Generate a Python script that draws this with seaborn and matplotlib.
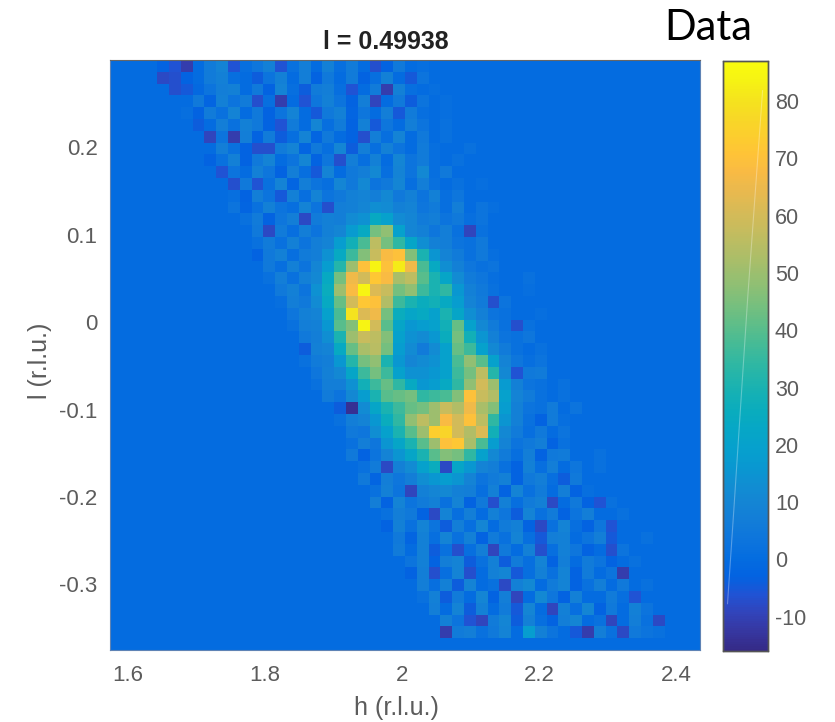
import seaborn as sns
import pandas as pd
import matplotlib.pyplot as plt
from matplotlib import use
from matplotlib.colors import LinearSegmentedColormap

# cell values, top row first, on a 50 x 50 grid
intensity_rows = [
    [0]*4 + [-3, -6, -11, 0, 6, 9, -6, 1, 4, 8, -6, 2, 7, 0, 8, 1, 6, 0, -7, -3, 5, 0, 1],
    [0]*4 + [-8, -7, -3, 0, 6, 8, 1, 0, -4, 3, 8, 0, 7, -3, 5, 0, 6, -3, 1, 8, 0, -5, 3, 0],
    [0]*5 + [-7, -5, -1, 3, 7, 8, 0, 5, -3, 9, 1, -4, 6, 7, 1, -6, 0, 6, -11, 8, 1, 0, 1],
    [0]*6 + [0, 5, -2, 8, 3, 6, -7, 1, -11, 0, -6, 4, 8, 3, -3, 7, -9, 0, 5, -4, 3, 0, 1],
    [0]*6 + [1, -3, 6, 2, 9, 0, 5, -3, 3, 9, 0, -5, 5, 8, -2, 4, 0, 7, -5, 6, 1, 0, 1],
    [0]*7 + [-4, 0, 7, 2, 8, 5, -3, -6, 6, 0, 10, 1, 6, -3, 8, -5, 4, 0, 7, 3, 0, 2, 0],
    [0]*7 + [0, -9, 3, -11, 7, -3, 6, -4, 1, 9, -2, 5, 0, -3, -7, 7, 1, 9, 0, 5, 0, 2, 0],
    [0]*8 + [0, 7, 2, -3, -7, -7, 6, 9, -2, 5, 1, 10, -4, 7, 1, 8, 3, 0, 6, 1, 0, 0, 2],
    [0]*8 + [-3, 2, 8, -3, 5, 9, 0, 3, 10, -3, 4, -7, 7, 1, 8, 0, 10, 3, 6, 1, 0, 2],
    [0]*9 + [-6, 3, 0, 8, 4, -3, 7, 1, -5, 9, 0, 5, 7, 11, 1, 9, 3, 11, 1, 5, 0, 0],
    [0]*9 + [0, -7, 5, -6, 2, 9, -2, 7, 3, 1, 10, 5, 11, 3, 5, 10, 1, 7, 2, 0, 2, 0, 1],
    [0]*10 + [1, -3, 7, 3, -5, 8, 1, 9, 3, 5, 8, 9, 7, 11, 5, 8, 3, 8, 1, 4, 0, 0],
    [0]*10 + [3, -2, 2, 8, 3, 1, 9, 3, -7, 7, 8, 10, 13, 12, 8, 9, 4, 6, 1, 7, 0, 3, 1],
    [0]*11 + [2, 6, -3, 4, 7, -8, 6, 8, 7, 12, 14, 24, 20, 12, 10, 6, 7, 3, 5, 1, 3, 0],
    [0]*11 + [0, 5, -8, 6, 1, 7, 3, 8, 10, 17, 24, 44, 48, 20, 10, 8, 4, 7, 2, -9, 2, 0, 0],
    [0]*12 + [2, 6, 2, 8, 3, 7, 9, 18, 28, 38, 56, 44, 34, 22, 13, 8, 7, 3, 2, 5, 0, 0],
    [0]*12 + [-3, 5, 8, 1, 6, 7, 14, 24, 36, 46, 58, 68, 70, 46, 30, 15, 9, 6, 2, 5, 1, 0, 0],
    [0]*13 + [5, 1, 8, 3, 10, 18, 32, 50, 70, 84, 70, 82, 66, 38, 24, 13, 8, 4, 2, 3, 0, 0],
    [0]*13 + [2, 7, 2, 8, 11, 24, 44, 66, 60, 72, 68, 52, 56, 40, 30, 22, 12, 6, 4, 1, 0, 0, 2],
    [0]*14 + [5, 8, 3, 14, 26, 50, 68, 84, 62, 58, 44, 48, 36, 30, 34, 16, 8, 5, 2, 0, 0, 1],
    [0]*14 + [1, 7, 5, 12, 24, 42, 60, 72, 70, 54, 36, 30, 26, 28, 24, 18, 9, 6, -7, 3, 0, 0],
    [0]*15 + [4, 8, 9, 20, 38, 80, 62, 66, 44, 26, 22, 24, 20, 30, 22, 13, 8, 3, 2, 0, 0, 1],
    [0]*15 + [2, 7, 8, 16, 40, 46, 84, 60, 40, 22, 16, 18, 20, 28, 42, 20, 11, 6, 2, -7, 2, 0],
    [0]*16 + [5, 7, 13, 30, 50, 58, 56, 46, 20, 14, 12, 16, 26, 44, 28, 15, 8, 3, 2, 4, 0, 0],
    [0]*16 + [-4, 8, 9, 24, 42, 52, 55, 44, 18, 12, 6, 12, 20, 42, 36, 20, 11, 6, 2, 0, 2, 0],
    [0]*16 + [2, 6, 7, 16, 32, 44, 48, 30, 16, 10, 12, 14, 20, 38, 48, 40, 20, 9, 4, 1, 3, 0, 0],
    [0]*17 + [4, 8, 11, 22, 36, 44, 36, 20, 14, 14, 16, 20, 36, 44, 56, 32, 11, -6, 5, 6, 0, 0],
    [0]*17 + [2, 7, 7, 14, 28, 36, 42, 34, 24, 16, 18, 24, 34, 48, 60, 50, 17, 8, 3, 2, 0, 2, 0],
    [0]*18 + [6, 3, 11, 18, 30, 40, 42, 44, 34, 36, 38, 46, 70, 58, 54, 20, 9, 6, 2, 0, 2, 0],
    [0]*18 + [0, -4, -14, 12, 22, 30, 36, 42, 44, 50, 58, 54, 66, 52, 46, 18, 8, 3, 2, 6, 0, 3, 0],
    [0]*19 + [2, 7, 9, 16, 26, 34, 48, 56, 50, 68, 60, 70, 56, 34, 15, 8, 2, -3, 6, 1, 0, 0],
    [0]*19 + [0, 5, 4, 13, 20, 30, 40, 50, 74, 76, 60, 54, 62, 28, 11, 6, 1, 5, 0, 3, 0, 0],
    [0]*20 + [2, 7, 4, 15, 22, 30, 40, 50, 70, 72, 52, 38, 18, 9, 3, 5, 7, -3, 2, 0, 0, 0],
    [0]*20 + [5, -3, 3, 9, 15, 22, 30, 40, 46, 44, 34, 20, 11, 6, 1, 7, -3, 5, 6, 0, 0, 2],
    [0]*21 + [2, 6, -8, 8, 12, 20, 26, -8, 22, 16, 9, 7, 2, -3, 8, 1, 7, 0, 4, 0, 2, 0],
    [0]*21 + [5, -2, 7, 4, 7, 13, 16, 18, 15, 9, 3, 6, 8, -3, 5, 7, 1, -4, 5, 0, 0, 0],
    [0]*22 + [2, 8, 3, -9, 8, 10, 11, 8, 7, 1, 8, -3, 9, 2, 6, 0, 7, -3, 1, 0, 0, 0],
    [0]*22 + [7, -3, 9, 3, 6, 8, 2, 9, -3, 5, -7, 8, 1, 6, 8, -8, 0, 5, -3, -6, 2, 0],
    [0]*23 + [2, 7, 5, -3, -8, 9, 1, 7, 0, 8, 4, -4, 9, 2, 6, -3, 3, 7, 0, 0, 2, 0],
    [0]*23 + [-3, 8, 2, 9, 3, -4, 7, 1, 10, 0, 6, 8, -3, -8, 2, 9, 1, -3, 4, -6, 0, 0],
    [0]*24 + [5, -2, 8, 1, 9, 2, 8, -3, 6, 2, 9, 1, -5, 7, 8, 0, 3, 7, -5, 0, 0, 2],
    [0]*24 + [6, 0, 8, -4, 2, -7, 1, 7, -9, 5, 0, 8, -7, 1, 8, 4, -3, 0, -7, 3, 0, 0],
    [0]*25 + [3, 8, -3, 7, 9, -4, 2, 8, -4, 6, 1, 9, -3, 7, 0, 6, 3, -3, 0, 2, 0],
    [0]*25 + [-3, 7, -7, 1, 9, -7, 0, 8, 10, -5, 1, 8, 2, 9, -3, 6, 0, 3, -11, 0, 0, 0],
    [0]*26 + [7, 1, 8, -4, 9, 0, 2, -8, 8, 11, 0, 6, 9, -3, 2, 7, 0, 5, 0, 2, 0],
    [0]*26 + [2, 8, -4, 6, 0, 10, -3, 7, -9, 0, 11, 4, -3, 8, 0, 0, 6, 1, -6, 0, 0, 0],
    [0]*27 + [7, 0, 9, -4, 8, 0, 6, -5, 10, 0, -9, 8, 1, 10, -3, 5, 0, 8, 3, 0, 0],
    [0]*27 + [0, 8, 3, -6, -9, 6, 10, -4, 8, 1, -3, 7, 10, 0, 2, -9, 0, 7, 2, -8, 0],
    [0]*28 + [-11, 6, 7, 2, 5, 9, 0, 18, 8, 3, 0, -5, -11, 7, 2, -8, 5, 3, 2],
    [0]*50,
]

h_ticks = [1.6, 1.8, 2.0, 2.2, 2.4]
h_tick_labels = ['1.6', '1.8', '2', '2.2', '2.4']
l_ticks = [0.2, 0.1, 0.0, -0.1, -0.2, -0.3]
l_tick_labels = ['0.2', '0.1', '0', '-0.1', '-0.2', '-0.3']
cbar_ticks = [-10, 0, 10, 20, 30, 40, 50, 60, 70, 80]

h_range = (1.574, 2.435)
l_range = (0.300, -0.375)
v_range = (-16, 87)

# matlab parula
parula = LinearSegmentedColormap.from_list('parula', [
    (0.2081, 0.1663, 0.5292), (0.2123, 0.2138, 0.6270), (0.1959, 0.2645, 0.7279),
    (0.1253, 0.3242, 0.8303), (0.0117, 0.3875, 0.8820), (0.0165, 0.4266, 0.8786),
    (0.0498, 0.4586, 0.8641), (0.0723, 0.4887, 0.8467), (0.0793, 0.5200, 0.8312),
    (0.0641, 0.5570, 0.8240), (0.0343, 0.5966, 0.8199), (0.0239, 0.6287, 0.8038),
    (0.0228, 0.6535, 0.7768), (0.0384, 0.6743, 0.7436), (0.0843, 0.6928, 0.7062),
    (0.1453, 0.7098, 0.6646), (0.2178, 0.7250, 0.6193), (0.3022, 0.7376, 0.5712),
    (0.3953, 0.7459, 0.5244), (0.4871, 0.7491, 0.4840), (0.5709, 0.7485, 0.4494),
    (0.6473, 0.7456, 0.4188), (0.7184, 0.7411, 0.3905), (0.7858, 0.7356, 0.3633),
    (0.8507, 0.7299, 0.3360), (0.9139, 0.7258, 0.3063), (0.9739, 0.7314, 0.2666),
    (0.9990, 0.7653, 0.2164), (0.9880, 0.8066, 0.1794), (0.9697, 0.8481, 0.1475),
    (0.9589, 0.8949, 0.1132), (0.9661, 0.9514, 0.0755), (0.9763, 0.9831, 0.0538),
], N=256)

use('agg')
sns.set_theme(style='white', font='Liberation Sans')
plt.rcParams['axes.unicode_minus'] = False

TEXT = '#5c5c5c'
W, H = 835, 722


def box(left, top, right, bottom):
    return [left / W, 1 - bottom / H, (right - left) / W, (bottom - top) / H]


df = pd.DataFrame([row + [0] * (50 - len(row)) for row in intensity_rows])

fig = plt.figure(figsize=(8.35, 7.22), dpi=100, facecolor='white')
ax = fig.add_axes(box(110, 60, 700, 650))
cax = fig.add_axes(box(723, 61, 768, 651))

sns.heatmap(df, ax=ax, cmap=parula, vmin=v_range[0], vmax=v_range[1],
            cbar_ax=cax, xticklabels=False, yticklabels=False, square=False,
            cbar_kws={'ticks': cbar_ticks})

# heatmap axes run in cell numbers, so put the physical ticks on that scale
n_rows, n_cols = df.shape
ax.set_xticks([(h - h_range[0]) / (h_range[1] - h_range[0]) * n_cols for h in h_ticks])
ax.set_xticklabels(h_tick_labels)
ax.set_yticks([(l - l_range[0]) / (l_range[1] - l_range[0]) * n_rows for l in l_ticks])
ax.set_yticklabels(l_tick_labels, rotation=0)
ax.tick_params(axis='both', direction='in', length=3, width=0.6, color='#355f9c',
               labelsize=16, labelcolor=TEXT)
ax.tick_params(axis='x', pad=11)
ax.tick_params(axis='y', pad=9)
ax.set_xlabel('h (r.l.u.)', fontsize=18, color=TEXT, labelpad=7, x=0.486)
ax.set_ylabel('l (r.l.u.)', fontsize=18, color=TEXT, labelpad=5, y=0.49)
ax.set_title('l = 0.49938', fontsize=18, fontweight='bold', color='#222222', pad=8, x=0.468)
for side, spine in ax.spines.items():
    spine.set_visible(True)
    spine.set_linewidth(0.8)
    spine.set_color('#5f83b5' if side != 'top' else '#666666')

cax.tick_params(axis='y', direction='in', length=5, width=0.8, labelsize=15.5,
                color='#444444', labelcolor=TEXT, pad=5)
for spine in cax.spines.values():
    spine.set_visible(True)
    spine.set_linewidth(1)
    spine.set_color('#555555')
# faint scan streak that runs up the colour bar
cax.plot([0.1, 0.25, 0.55, 0.88], [0.08, 0.25, 0.6, 0.95], color='white', lw=0.8,
         alpha=0.3, transform=cax.transAxes)

fig.text(708 / W, 1 - 28 / H, 'Data', fontsize=30, family='Lato', color='black',
         ha='center', va='center')

plt.savefig('out.png', dpi=100)
